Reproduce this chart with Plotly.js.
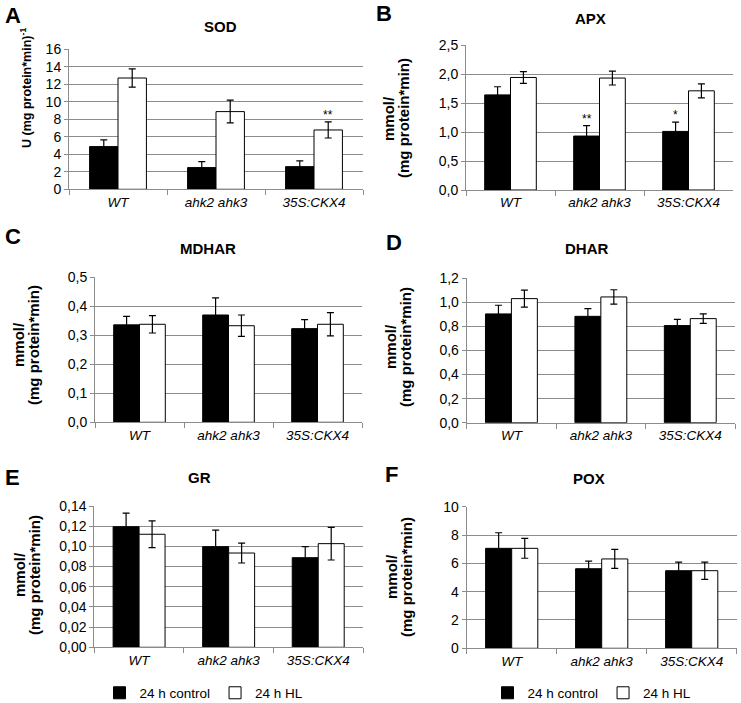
<!DOCTYPE html>
<html>
<head>
<meta charset="utf-8">
<script src="https://cdn.plot.ly/plotly-3.0.1.min.js"></script>
<style>
  body { margin: 0; background: #fff; }
  #plot { width: 741px; height: 703px; }
</style>
</head>
<body>
<div id="plot"></div>
<script>
// genotypes
var groups = ['WT', 'ahk2 ahk3', '35S:CKX4'];

// SOD, U (mg protein*min)-1
var sodCtrl = [4.88, 2.48, 2.59];
var sodCtrlErr = [0.76, 0.68, 0.65];
var sodHL = [12.72, 8.88, 6.78];
var sodHLErr = [1.04, 1.3, 0.92];

// APX
var apxCtrl = [1.64, 0.93, 1.01];
var apxCtrlErr = [0.14, 0.18, 0.16];
var apxHL = [1.94, 1.93, 1.71];
var apxHLErr = [0.1, 0.12, 0.12];

// MDHAR
var mdharCtrl = [0.336, 0.370, 0.323];
var mdharCtrlErr = [0.029, 0.059, 0.031];
var mdharHL = [0.338, 0.333, 0.338];
var mdharHLErr = [0.030, 0.037, 0.040];

// DHAR
var dharCtrl = [0.904, 0.884, 0.807];
var dharCtrlErr = [0.072, 0.064, 0.052];
var dharHL = [1.031, 1.045, 0.865];
var dharHLErr = [0.07, 0.06, 0.039];

// GR
var grCtrl = [0.1195, 0.0997, 0.0888];
var grCtrlErr = [0.0135, 0.0163, 0.0109];
var grHL = [0.112, 0.0934, 0.1027];
var grHLErr = [0.0132, 0.0099, 0.0162];

// POX
var poxCtrl = [7.06, 5.62, 5.48];
var poxCtrlErr = [1.1, 0.54, 0.61];
var poxHL = [7.06, 6.31, 5.48];
var poxHLErr = [0.7, 0.67, 0.61];

var seriesNames = ['24 h control', '24 h HL'];

var W = 741, H = 703;
function px(x) { return x / W; }
function py(y) { return 1 - y / H; }

var FONT = 'Liberation Sans, Arial, sans-serif';
var GRID = '#8c8c8c';
var BARGAP = 0.42;

var mmolLines = ['mmol/', '(mg protein*min)'];

// ytitleX: x centre of each title line, ytitleY: vertical centre
var panels = [
  {name: 'SOD', letter: 'A', ctrl: sodCtrl, ctrlErr: sodCtrlErr, hl: sodHL, hlErr: sodHLErr,
   range: [0, 16], dtick: 2, fmt: 'd', ytitle: ['U (mg protein*min)<sup>-1</sup>'], ytitleSize: 12.5,
   box: [69, 363, 49.3, 189.3], letterPos: [3, 15], titlePos: [220, 27], ytitleX: [26], ytitleY: 88,
   stars: [{g: 2, s: 1, text: '**'}], legend: null},
  {name: 'APX', letter: 'B', ctrl: apxCtrl, ctrlErr: apxCtrlErr, hl: apxHL, hlErr: apxHLErr,
   range: [0, 2.5], dtick: 0.5, fmt: '.1f', ytitle: mmolLines, ytitleSize: 15,
   box: [466, 733, 45, 190], letterPos: [374, 14], titlePos: [590, 19], ytitleX: [388, 403], ytitleY: 118,
   stars: [{g: 1, s: 0, text: '**'}, {g: 2, s: 0, text: '*'}], legend: null},
  {name: 'MDHAR', letter: 'C', ctrl: mdharCtrl, ctrlErr: mdharCtrlErr, hl: mdharHL, hlErr: mdharHLErr,
   range: [0, 0.5], dtick: 0.1, fmt: '.1f', ytitle: mmolLines, ytitleSize: 15,
   box: [95, 362, 277.3, 422.3], letterPos: [3, 236], titlePos: [208, 248], ytitleX: [18, 33], ytitleY: 345,
   stars: [], legend: null},
  {name: 'DHAR', letter: 'D', ctrl: dharCtrl, ctrlErr: dharCtrlErr, hl: dharHL, hlErr: dharHLErr,
   range: [0, 1.2], dtick: 0.2, fmt: '.1f', ytitle: mmolLines, ytitleSize: 15,
   box: [466.7, 735, 278.3, 422.7], letterPos: [384, 243], titlePos: [586, 248], ytitleX: [390, 405], ytitleY: 347,
   stars: [], legend: null},
  {name: 'GR', letter: 'E', ctrl: grCtrl, ctrlErr: grCtrlErr, hl: grHL, hlErr: grHLErr,
   range: [0, 0.14], dtick: 0.02, fmt: '.2f', ytitle: mmolLines, ytitleSize: 15,
   box: [94.3, 363, 506, 647.3], letterPos: [3, 477], titlePos: [199, 477], ytitleX: [19, 34], ytitleY: 575,
   stars: [], legend: 'legend'},
  {name: 'POX', letter: 'F', ctrl: poxCtrl, ctrlErr: poxCtrlErr, hl: poxHL, hlErr: poxHLErr,
   range: [0, 10], dtick: 2, fmt: 'd', ytitle: mmolLines, ytitleSize: 15,
   box: [466.7, 736.7, 506.7, 648.3], letterPos: [383, 474], titlePos: [589, 478], ytitleX: [391, 406], ytitleY: 577,
   stars: [], legend: 'legend2'}
];

var data = [];
var layout = {
  width: W, height: H,
  margin: {l: 0, r: 0, t: 0, b: 0, autoexpand: false},
  paper_bgcolor: '#fff', plot_bgcolor: '#fff',
  font: {family: FONT, size: 13, color: '#000'},
  separators: ', ',
  barmode: 'group', bargap: BARGAP, bargroupgap: 0,
  annotations: [],
  legend: {orientation: 'h', x: px(204), xanchor: 'center', y: py(693), yanchor: 'middle',
           font: {size: 13.5}, itemwidth: 30, tracegroupgap: 0, bgcolor: 'rgba(0,0,0,0)'},
  legend2: {orientation: 'h', x: px(592), xanchor: 'center', y: py(693), yanchor: 'middle',
            font: {size: 13.5}, itemwidth: 30, tracegroupgap: 0, bgcolor: 'rgba(0,0,0,0)'}
};

panels.forEach(function (p, i) {
  var n = i === 0 ? '' : String(i + 1);
  var xa = 'x' + n, ya = 'y' + n;
  var showLeg = p.legend !== null;

  data.push({
    type: 'bar', x: groups, y: p.ctrl, name: seriesNames[0],
    xaxis: xa, yaxis: ya,
    marker: {color: '#000', line: {color: '#000', width: 1}},
    error_y: {type: 'data', array: p.ctrlErr, visible: true, color: '#000', thickness: 1.2, width: 3.5},
    showlegend: showLeg, legend: showLeg ? p.legend : undefined,
    hoverinfo: 'y'
  });
  data.push({
    type: 'bar', x: groups, y: p.hl, name: seriesNames[1],
    xaxis: xa, yaxis: ya,
    marker: {color: '#fff', line: {color: '#000', width: 1}},
    error_y: {type: 'data', array: p.hlErr, visible: true, color: '#000', thickness: 1.2, width: 3.5},
    showlegend: showLeg, legend: showLeg ? p.legend : undefined,
    hoverinfo: 'y'
  });

  layout['xaxis' + n] = {
    domain: [px(p.box[0]), px(p.box[1])],
    anchor: ya, type: 'category',
    showline: true, linecolor: GRID, linewidth: 1,
    ticks: 'outside', tickson: 'boundaries', ticklen: 5, tickcolor: GRID,
    showgrid: false, zeroline: false,
    tickfont: {family: FONT, size: 13.5, style: 'italic'},
    fixedrange: true
  };
  layout['yaxis' + n] = {
    domain: [py(p.box[3]), py(p.box[2])],
    anchor: xa, range: p.range, dtick: p.dtick, tick0: 0,
    tickformat: p.fmt,
    showline: true, linecolor: GRID, linewidth: 1,
    ticks: 'outside', ticklen: 4, tickcolor: GRID,
    showgrid: true, gridcolor: GRID, gridwidth: 1,
    zeroline: false,
    tickfont: {family: FONT, size: 14},
    fixedrange: true
  };

  // panel letter
  layout.annotations.push({
    xref: 'paper', yref: 'paper', x: px(p.letterPos[0]), y: py(p.letterPos[1]),
    xanchor: 'left', yanchor: 'middle', showarrow: false,
    text: '<b>' + p.letter + '</b>', font: {family: FONT, size: 22}
  });
  // panel title
  layout.annotations.push({
    xref: 'paper', yref: 'paper', x: px(p.titlePos[0]), y: py(p.titlePos[1]),
    xanchor: 'center', yanchor: 'middle', showarrow: false,
    text: '<b>' + p.name + '</b>', font: {family: FONT, size: 15}
  });
  // y axis title, one annotation per line to keep the lines tight
  p.ytitle.forEach(function (line, k) {
    layout.annotations.push({
      xref: 'paper', yref: 'paper', x: px(p.ytitleX[k]), y: py(p.ytitleY),
      xanchor: 'center', yanchor: 'middle', showarrow: false, textangle: -90,
      text: '<b>' + line + '</b>', font: {family: FONT, size: p.ytitleSize}
    });
  });
  // significance marks above error bars
  var off = (1 - BARGAP) / 4;
  p.stars.forEach(function (s) {
    var val = s.s === 0 ? p.ctrl[s.g] + p.ctrlErr[s.g] : p.hl[s.g] + p.hlErr[s.g];
    layout.annotations.push({
      xref: xa, yref: ya, x: s.g + (s.s === 0 ? -off : off), y: val,
      xanchor: 'center', yanchor: 'bottom', yshift: -2, showarrow: false,
      text: s.text, font: {family: FONT, size: 12}
    });
  });
});

Plotly.newPlot('plot', data, layout, {displayModeBar: false, staticPlot: true});
</script>
</body>
</html>
